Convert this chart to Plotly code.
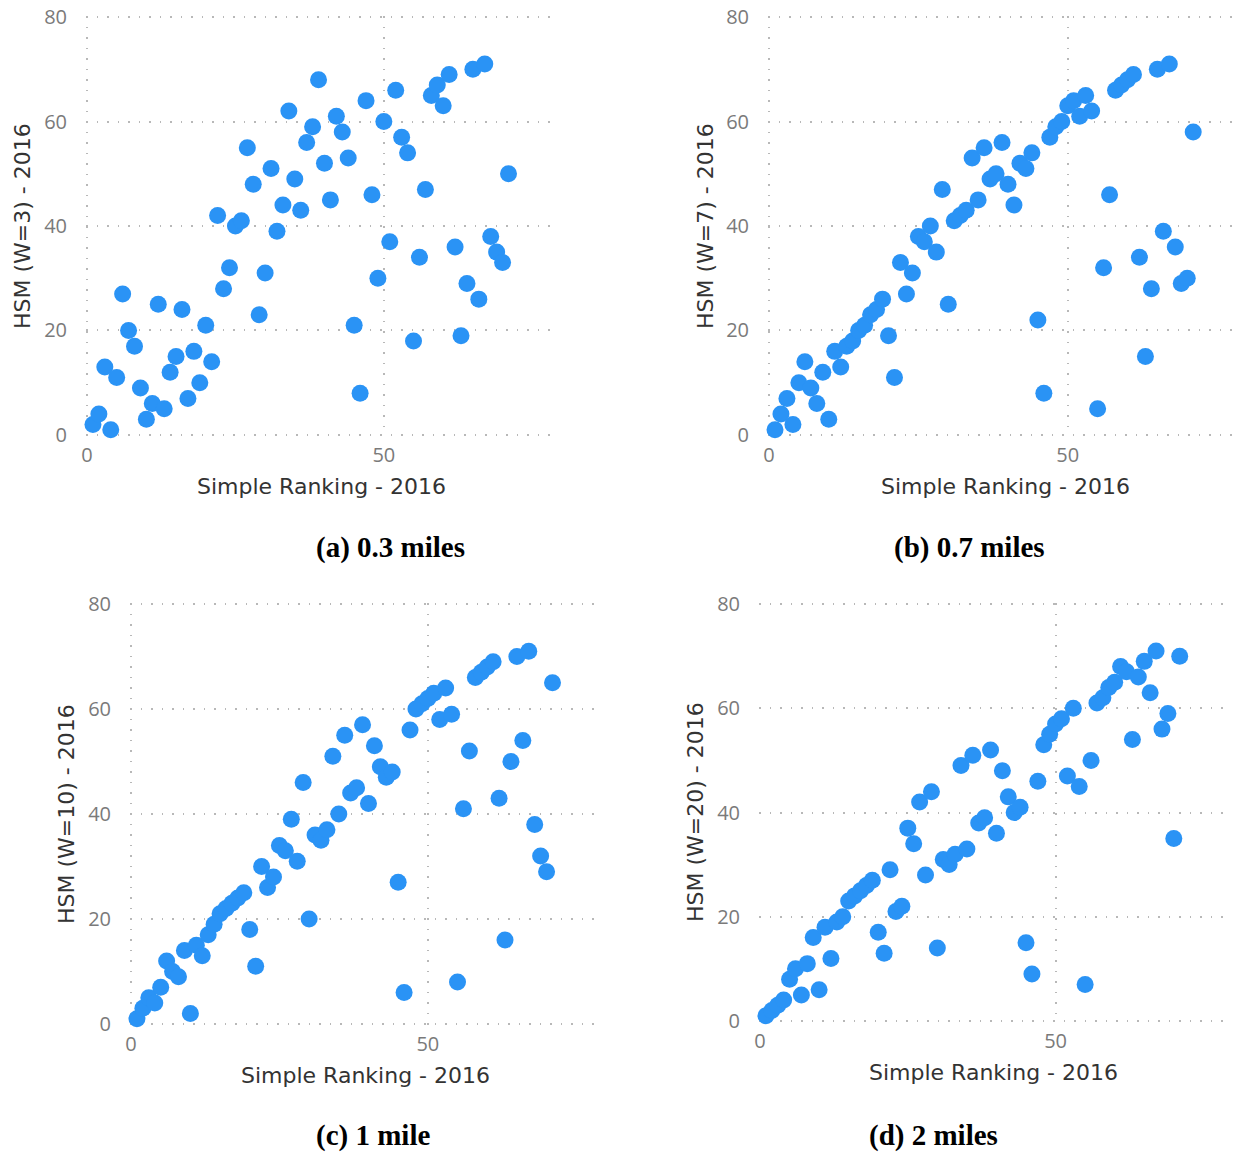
import plotly.graph_objects as go

# ---------------- data ----------------
ranking = list(range(1, 72))  # Simple Ranking - 2016 (x for every panel)

hsm_w3 = [2, 4, 13, 1, 11, 27, 20, 17, 9, 3, 6, 25, 5, 12, 15, 24, 7, 16, 10, 21,
          14, 42, 28, 32, 40, 41, 55, 48, 23, 31, 51, 39, 44, 62, 49, 43, 56, 59, 68, 52,
          45, 61, 58, 53, 21, 8, 64, 46, 30, 60, 37, 66, 57, 54, 18, 34, 47, 65, 67, 63,
          69, 36, 19, 29, 70, 26, 71, 38, 35, 33, 50]

hsm_w7 = [1, 4, 7, 2, 10, 14, 9, 6, 12, 3, 16, 13, 17, 18, 20, 21, 23, 24, 26, 19,
          11, 33, 27, 31, 38, 37, 40, 35, 47, 25, 41, 42, 43, 53, 45, 55, 49, 50, 56, 48,
          44, 52, 51, 54, 22, 8, 57, 59, 60, 63, 64, 61, 65, 62, 5, 32, 46, 66, 67, 68,
          69, 34, 15, 28, 70, 39, 71, 36, 29, 30, 58]

hsm_w10 = [1, 3, 5, 4, 7, 12, 10, 9, 14, 2, 15, 13, 17, 19, 21, 22, 23, 24, 25, 18,
           11, 30, 26, 28, 34, 33, 39, 31, 46, 20, 36, 35, 37, 51, 40, 55, 44, 45, 57, 42,
           53, 49, 47, 48, 27, 6, 56, 60, 61, 62, 63, 58, 64, 59, 8, 41, 52, 66, 67, 68,
           69, 43, 16, 50, 70, 54, 71, 38, 32, 29, 65]

hsm_w20 = [1, 2, 3, 4, 8, 10, 5, 11, 16, 6, 18, 12, 19, 20, 23, 24, 25, 26, 27, 17,
           13, 29, 21, 22, 37, 34, 42, 28, 44, 14, 31, 30, 32, 49, 33, 51, 38, 39, 52, 36,
           48, 43, 40, 41, 15, 9, 46, 53, 55, 57, 58, 47, 60, 45, 7, 50, 61, 62, 64, 65,
           68, 67, 54, 66, 69, 63, 71, 56, 59, 35, 70]

y_titles = ["HSM (W=3) - 2016", "HSM (W=7) - 2016", "HSM (W=10) - 2016", "HSM (W=20) - 2016"]
x_title = "Simple Ranking - 2016"
captions = ["(a) 0.3 miles", "(b) 0.7 miles", "(c) 1 mile", "(d) 2 miles"]
series = [hsm_w3, hsm_w7, hsm_w10, hsm_w20]

# ---------------- layout geometry (pixels) ----------------
W, H = 1241, 1152
# (left, right, top, bottom) of each plot area in pixels
boxes = [(86, 556, 16, 436), (768, 1241, 16, 436),
         (130, 600, 603, 1025), (759, 1227, 603, 1022)]
ytitle_pos = [(22, 226), (705, 226), (66, 814), (695, 812)]
xtitle_pos = [(321, 486), (1005, 486), (365, 1075), (993, 1072)]
caption_pos = [(390, 547), (969, 547), (373, 1135), (933, 1135)]

BLUE = "#2A93F5"
TICK_FONT = dict(family="Open Sans", size=20, color="#7a7a7a")
TITLE_FONT = dict(family="DejaVu Sans", size=22, color="#333333")
CAP_FONT = dict(family="Liberation Serif", size=29, color="#000000")

fig = go.Figure()
layout = dict(width=W, height=H, margin=dict(l=0, r=0, t=0, b=0, autoexpand=False),
              paper_bgcolor="white", plot_bgcolor="white", showlegend=False)
annotations = []


def px(x):
    return x / W


def py(y):
    return 1 - y / H


for i, (ys, box) in enumerate(zip(series, boxes)):
    n = "" if i == 0 else str(i + 1)
    l, r, t, b = box
    fig.add_trace(go.Scatter(x=ranking, y=ys, mode="markers", xaxis="x" + n, yaxis="y" + n,
                             cliponaxis=False,
                             marker=dict(size=17, color=BLUE, line=dict(width=0))))
    layout["xaxis" + n] = dict(domain=[px(l), px(r)], range=[-0.17, 79], anchor="y" + n,
                               tickvals=[0, 50], showgrid=True, gridcolor="#b8b8b8",
                               griddash="1.5px,9px", gridwidth=1.5, zeroline=False,
                               showline=False, ticks="", tickfont=TICK_FONT,
                               ticklabelstandoff=5, fixedrange=True, automargin=False)
    layout["yaxis" + n] = dict(domain=[py(b), py(t)], range=[-0.2, 80.2], anchor="x" + n,
                               tickvals=[0, 20, 40, 60, 80], showgrid=True, gridcolor="#b8b8b8",
                               griddash="1.5px,9px", gridwidth=1.5, zeroline=False,
                               showline=False, ticks="", tickfont=TICK_FONT,
                               ticklabelstandoff=18, fixedrange=True, automargin=False)
    ax, ay = ytitle_pos[i]
    annotations.append(dict(text=y_titles[i], x=px(ax), y=py(ay), xref="paper", yref="paper",
                            showarrow=False, textangle=-90, font=TITLE_FONT,
                            xanchor="center", yanchor="middle"))
    ax, ay = xtitle_pos[i]
    annotations.append(dict(text=x_title, x=px(ax), y=py(ay), xref="paper", yref="paper",
                            showarrow=False, font=TITLE_FONT,
                            xanchor="center", yanchor="middle"))
    ax, ay = caption_pos[i]
    annotations.append(dict(text="<b>" + captions[i] + "</b>", x=px(ax), y=py(ay),
                            xref="paper", yref="paper", showarrow=False, font=CAP_FONT,
                            xanchor="center", yanchor="middle"))

layout["annotations"] = annotations
fig.update_layout(**layout)
fig.write_html("out.html")
